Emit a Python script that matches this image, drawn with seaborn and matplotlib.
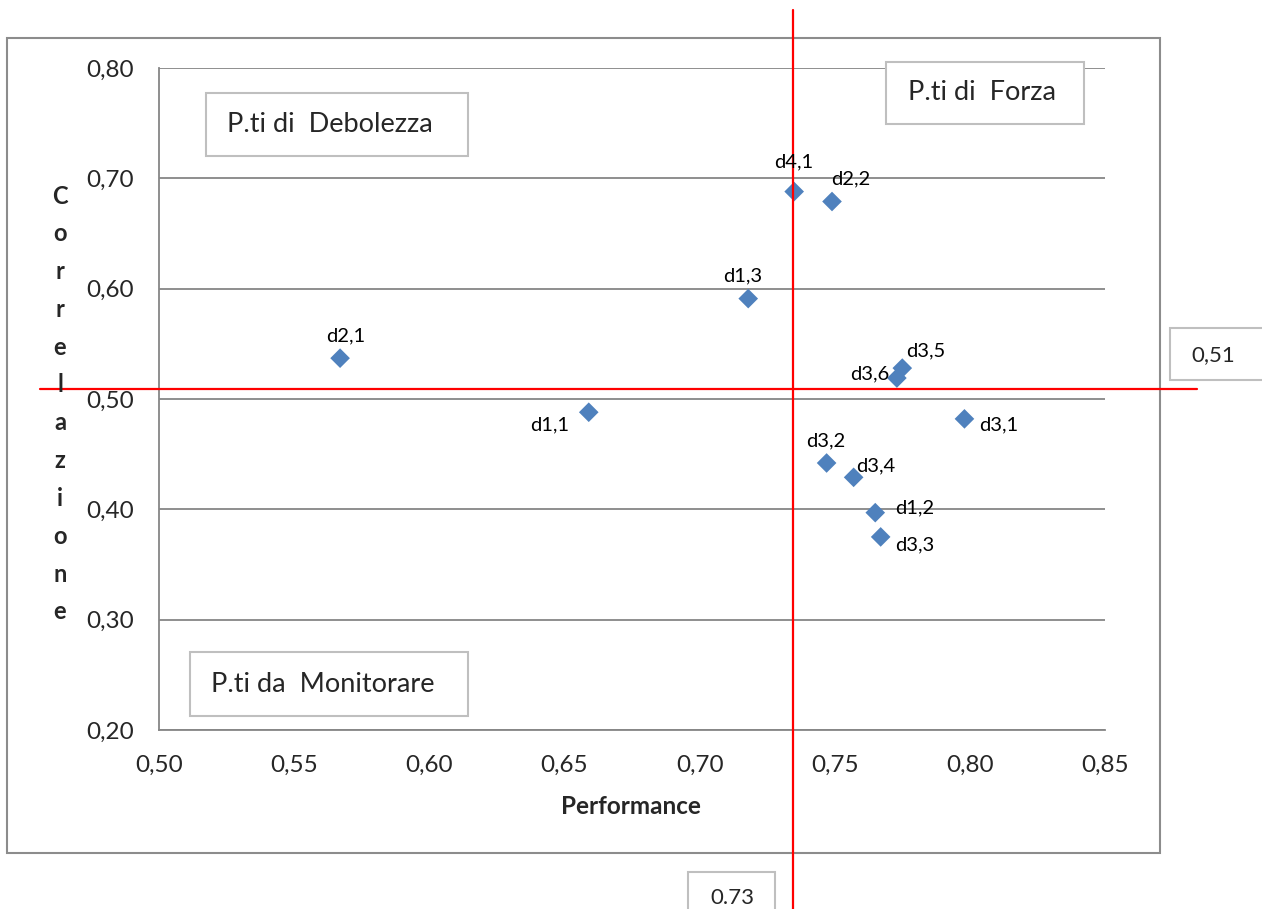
import matplotlib
matplotlib.use("Agg")
import matplotlib.pyplot as plt
import seaborn as sns
import pandas as pd
from matplotlib.patches import Rectangle

# ---------------- data ----------------
labels = ["d1,1", "d1,2", "d1,3", "d2,1", "d2,2", "d3,1",
          "d3,2", "d3,3", "d3,4", "d3,5", "d3,6", "d4,1"]
performance = [0.659, 0.765, 0.718, 0.567, 0.749, 0.798,
               0.747, 0.767, 0.757, 0.775, 0.773, 0.735]
correlazione = [0.488, 0.397, 0.591, 0.537, 0.679, 0.482,
                0.442, 0.375, 0.429, 0.528, 0.519, 0.688]

x_ticks = [0.50, 0.55, 0.60, 0.65, 0.70, 0.75, 0.80, 0.85]
x_tick_labels = ["0,50", "0,55", "0,60", "0,65", "0,70", "0,75", "0,80", "0,85"]
y_ticks = [0.20, 0.30, 0.40, 0.50, 0.60, 0.70, 0.80]
y_tick_labels = ["0,20", "0,30", "0,40", "0,50", "0,60", "0,70", "0,80"]

threshold_x = 0.7346
threshold_x_label = "0.73"
threshold_y = 0.5095
threshold_y_label = "0,51"

quadrant_texts = ["P.ti di  Debolezza", "P.ti di  Forza", "P.ti da  Monitorare"]
x_title = "Performance"
y_title = "Correlazione"

# label offsets in pixels (style/position only)
label_offsets = [(-39, -13), (39, 5), (-6, 23), (6, 22), (19, 23), (34, -6),
                 (-1, 22), (34, -8), (22, 11), (23, 17), (-27, 4), (0, 30)]

# ---------------- style ----------------
sns.set_style("white")
plt.rcParams['font.family'] = ['Lato', 'DejaVu Sans']

W, H = 1262, 909
fig = plt.figure(figsize=(W / 100, H / 100), dpi=100)


def fx(x):
    return x / W


def fy(y):
    return 1 - y / H


GRID = "#868686"
BOX = "#bfbfbf"
BLUE = "#4F81BD"

# chart border
fig.add_artist(Rectangle((fx(7), fy(853)), fx(1160) - fx(7), fy(38) - fy(853),
                         transform=fig.transFigure, fill=False,
                         edgecolor="#8c8c8c", lw=1.5, zorder=0))

ax = fig.add_axes([fx(159), fy(730), (1105 - 159) / W, (730 - 68) / H])
ax.set_facecolor("none")

df = pd.DataFrame({"Performance": performance, "Correlazione": correlazione,
                   "label": labels})
sns.scatterplot(data=df, x="Performance", y="Correlazione", marker="D", s=100,
                color=BLUE, edgecolor="none", ax=ax, zorder=3, legend=False)

for (xv, yv, lab), (dx, dy) in zip(zip(performance, correlazione, labels), label_offsets):
    ax.annotate(lab, (xv, yv), xytext=(dx, dy), textcoords="offset pixels",
                ha="center", va="center", fontsize=14.5, color="black", zorder=5)

ax.set_xlim(x_ticks[0], x_ticks[-1])
ax.set_ylim(y_ticks[0], y_ticks[-1])
ax.set_xticks(x_ticks)
ax.set_xticklabels(x_tick_labels, fontsize=17.5)
ax.set_yticks(y_ticks)
ax.set_yticklabels(y_tick_labels, fontsize=17.5)
ax.set_xlabel("")
ax.set_ylabel("")

ax.yaxis.grid(True, color=GRID, lw=1.3)
ax.xaxis.grid(False)
ax.set_axisbelow(True)
for s in ["top", "right"]:
    ax.spines[s].set_visible(False)
for s in ["left", "bottom"]:
    ax.spines[s].set_color(GRID)
    ax.spines[s].set_linewidth(1.3)
ax.tick_params(axis="both", direction="out", length=6, width=1.3, color=GRID)
ax.tick_params(axis="x", pad=12)
ax.tick_params(axis="y", pad=12)

# red threshold lines
ax.axvline(threshold_x, ymin=(730 - 909) / 662, ymax=(730 - 10) / 662,
           color="red", lw=1.6, clip_on=False, zorder=4)
ax.axhline(threshold_y, xmin=(40 - 159) / 946, xmax=(1197 - 159) / 946,
           color="red", lw=1.6, clip_on=False, zorder=4)

# axis titles
fig.text(fx(631), fy(807), x_title, fontsize=17.5, fontweight="bold",
         ha="center", va="center")
for i, ch in enumerate(y_title):
    fig.text(fx(60), fy(196 + i * 37.8), ch, fontsize=17, fontweight="bold",
             ha="center", va="center")


# boxes with text
def box(x0, y0, x1, y1, text, tx, ty, size):
    fig.add_artist(Rectangle((fx(x0), fy(y1)), fx(x1) - fx(x0), fy(y0) - fy(y1),
                             transform=fig.transFigure, facecolor="white",
                             edgecolor=BOX, lw=1.5, zorder=6))
    t = fig.text(fx(tx), fy(ty), text, fontsize=size, ha="left", va="center",
                 zorder=7)
    return t


box(206, 93, 468, 156, quadrant_texts[0], 227, 124, 19.5)
box(886, 62, 1084, 124, quadrant_texts[1], 908, 92, 19.5)
box(190, 652, 468, 716, quadrant_texts[2], 211, 684, 19.5)
box(1170, 328, 1275, 380, threshold_y_label, 1191, 355, 16)
box(688, 872, 775, 925, threshold_x_label, 710, 898, 16)

fig.savefig("out.png", dpi=100, facecolor="white")
